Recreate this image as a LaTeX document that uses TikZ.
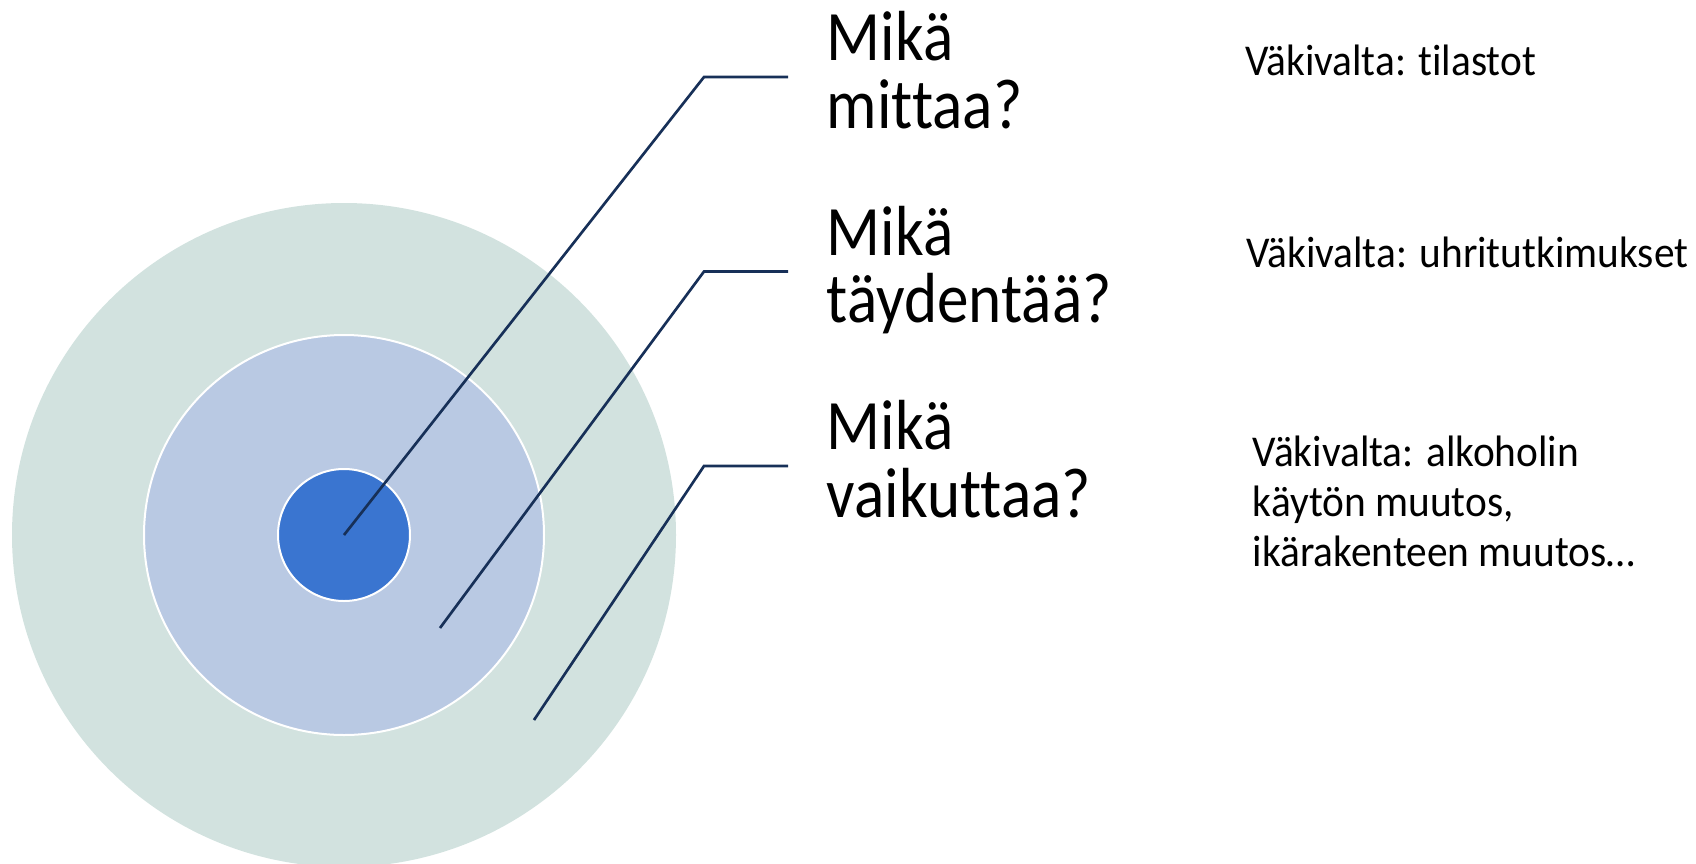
\documentclass[tikz,border=0pt]{standalone}
\usepackage{fontspec}
\setmainfont{Carlito}
\newfontfamily\bigqfont[FakeStretch=0.89,Ligatures=NoCommon]{Carlito}
\newfontfamily\notefont[FakeStretch=0.94,Ligatures=NoCommon]{Carlito}
\definecolor{outerc}{RGB}{210,226,223}
\definecolor{midc}{RGB}{185,201,227}
\definecolor{innerc}{RGB}{58,117,208}
\definecolor{linec}{RGB}{23,48,88}
\begin{document}
\begin{tikzpicture}[x=0.75pt,y=-0.75pt,
  leader/.style={draw=linec,line width=2pt,line join=miter},
  bigq/.style={anchor=base west,inner sep=0pt,align=left,font=\bigqfont\fontsize{53.2pt}{50.6pt}\selectfont},
  note/.style={anchor=base west,inner sep=0pt,align=left,font=\notefont\fontsize{33pt}{37.5pt}\selectfont}]
\useasboundingbox (0,0) rectangle (1696,864);
\coordinate (ctr) at (344,535);
\fill[outerc] (ctr) circle (332);
\filldraw[fill=midc,draw=white,line width=1.5pt] (ctr) circle (200);
\filldraw[fill=innerc,draw=white,line width=1.5pt] (ctr) circle (66);
% leader coordinates
\coordinate (k1) at (704,77);   \coordinate (e1) at (788,77);
\coordinate (s2) at (440,628);  \coordinate (k2) at (704,271.5); \coordinate (e2) at (788,271.5);
\coordinate (s3) at (534,720);  \coordinate (k3) at (704,466);   \coordinate (e3) at (788,466);
\draw[leader] (ctr) -- (k1) -- (e1);
\draw[leader] (s2) -- (k2) -- (e2);
\draw[leader] (s3) -- (k3) -- (e3);
% questions (base anchor = baseline of last line)
\node[bigq] (q1) at (826.7,128.3) {Mikä\\mittaa?};
\node[bigq] (q2) at (826.7,322.8) {Mikä\\täydentää?};
\node[bigq] (q3) at (826.7,517.3) {Mikä\\vaikuttaa?};
% notes
\node[note] (n1) at (1245,75) {Väkivalta: tilastot};
\node[note] (n2) at (1246,267) {Väkivalta: uhritutkimukset};
\node[note] (n3) at (1252.7,566.7) {Väkivalta: alkoholin\\käytön muutos,\\ikärakenteen muutos…};
\end{tikzpicture}
\end{document}
